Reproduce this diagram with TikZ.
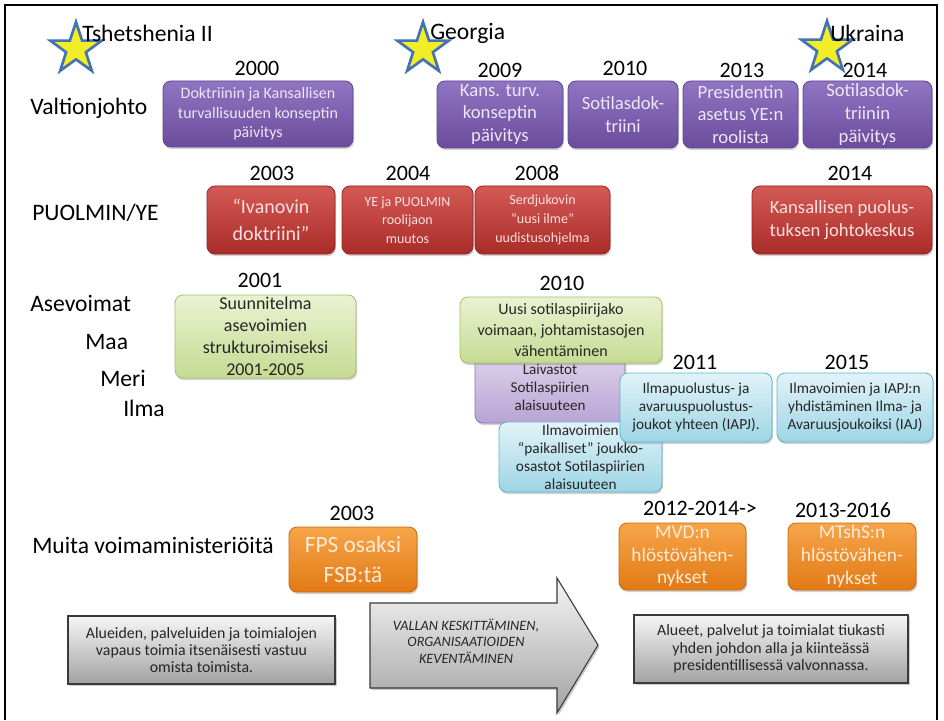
\documentclass[tikz,border=0pt]{standalone}
\usepackage{fontspec}
\setmainfont{Carlito}
\usetikzlibrary{shapes.geometric,shadows}
\definecolor{ptop}{HTML}{9075C2}
\definecolor{pbot}{HTML}{6B4C9C}
\definecolor{pedge}{HTML}{5E4390}
\definecolor{ptext}{HTML}{ECE6F6}
\definecolor{rtop}{HTML}{D45A55}
\definecolor{rbot}{HTML}{A92B28}
\definecolor{redge}{HTML}{932420}
\definecolor{rtext}{HTML}{F8E0DE}
\definecolor{otop}{HTML}{F7A54A}
\definecolor{obot}{HTML}{E27A15}
\definecolor{oedge}{HTML}{C9690F}
\definecolor{otext}{HTML}{FDEBD8}
\definecolor{gtop}{HTML}{EAF2D2}
\definecolor{gbot}{HTML}{C6DB92}
\definecolor{gedge}{HTML}{A3C064}
\definecolor{ctop}{HTML}{E2F3F8}
\definecolor{cbot}{HTML}{9DD5E5}
\definecolor{cedge}{HTML}{5DB3CB}
\definecolor{ltop}{HTML}{E0D5EC}
\definecolor{lbot}{HTML}{B9A4D4}
\definecolor{ledge}{HTML}{8C72B0}
\definecolor{darktext}{HTML}{262626}
\definecolor{startfill}{HTML}{F1EE27}
\definecolor{staredge}{HTML}{4472B4}
\definecolor{graytop}{HTML}{F6F6F6}
\definecolor{graybot}{HTML}{A2A2A2}
\definecolor{grayedge}{HTML}{3A3A3A}
\newcommand\mybox[7]{\node[#1, minimum width={(#5-#3)*0.75pt}, minimum height={(#6-#4)*0.75pt}] (#2) at ({(#3+#5)/2},{(#4+#6)/2}) {#7};}
\tikzset{
  base/.style={rounded corners=6pt, align=center, inner sep=0pt, line width=0.6pt,
    drop shadow={opacity=0.35, shadow xshift=0.8pt, shadow yshift=-1.6pt}},
  purp/.style={base, draw=pedge, top color=ptop, bottom color=pbot, text=ptext},
  redb/.style={base, draw=redge, top color=rtop, bottom color=rbot, text=rtext},
  orab/.style={base, draw=oedge, top color=otop, bottom color=obot, text=otext},
  grnb/.style={base, draw=gedge, top color=gtop, bottom color=gbot, text=darktext},
  cyab/.style={base, draw=cedge, top color=ctop, bottom color=cbot, text=darktext},
  lpub/.style={base, draw=ledge, top color=ltop, bottom color=lbot, text=darktext},
  grayb/.style={rectangle, align=center, inner sep=0pt, draw=grayedge, line width=0.8pt,
    top color=graytop, bottom color=graybot, text=darktext,
    font=\fontsize{11.9}{13}\selectfont,
    drop shadow={opacity=0.4, shadow xshift=1.2pt, shadow yshift=-1.6pt}},
  rowlbl/.style={anchor=west, inner sep=0pt, font=\fontsize{17.7}{20}\selectfont},
  yearlbl/.style={inner sep=0pt, font=\fontsize{16.5}{20}\selectfont},
  starsh/.style={star, star points=5, star point ratio=2.6, minimum size=40.5pt,
    inner sep=0pt, fill=startfill, draw=staredge, line width=2pt},
}
\begin{document}
\begin{tikzpicture}[x=0.75pt,y=-0.75pt]
\useasboundingbox (0,0) rectangle (944,720);
\fill[white] (0,0) rectangle (944,720);
\draw[line width=2.2pt] (5,720) -- (5,5) -- (937,5) -- (937,720);

% stars and conflicts
\node[starsh] (st1) at (76,49) {};
\node[starsh] (st2) at (423,49) {};
\node[starsh] (st3) at (827,48) {};
\node[rowlbl] (tsh) at (82,33) {Tshetshenia II};
\node[rowlbl] (geo) at (430,33) {Georgia};
\node[rowlbl] (ukr) at (830,33) {Ukraina};

% row labels
\node[rowlbl] (valt) at (30,108) {Valtionjohto};
\node[rowlbl] (puol) at (32,213) {PUOLMIN/YE};
\node[rowlbl] (asev) at (30,303) {Asevoimat};
\node[rowlbl] (maa) at (85,342) {Maa};
\node[rowlbl] (meri) at (100,378) {Meri};
\node[rowlbl] (ilma) at (123,408) {Ilma};
\node[rowlbl] (muita) at (32,545) {Muita voimaministeriöitä};

% years
\node[yearlbl] (y2000) at (257,68) {2000};
\node[yearlbl] (y2009) at (500,70) {2009};
\node[yearlbl] (y2010) at (625,68) {2010};
\node[yearlbl] (y2013) at (742,70) {2013};
\node[yearlbl] (y2014) at (865,70) {2014};
\node[yearlbl] (y2003) at (272,173) {2003};
\node[yearlbl] (y2004) at (408,173) {2004};
\node[yearlbl] (y2008) at (537,173) {2008};
\node[yearlbl] (y2014b) at (850,173) {2014};
\node[yearlbl] (y2001) at (260,280) {2001};
\node[yearlbl] (y2010b) at (562,283) {2010};
\node[yearlbl] (y2011) at (695,362) {2011};
\node[yearlbl] (y2015) at (847,362) {2015};
\node[yearlbl] (y2003b) at (352,513) {2003};
\node[yearlbl] (y2012) at (700,508) {2012-2014->};
\node[yearlbl] (y2013b) at (843,510) {2013-2016};

% Valtionjohto
\mybox{purp,font=\fontsize{12}{14.5}\selectfont}{b2000}{163}{81}{353}{147}{Doktriinin ja Kansallisen\\turvallisuuden konseptin\\päivitys}
\mybox{purp,font=\fontsize{14}{17}\selectfont}{b2009}{437}{81}{563}{148}{Kans. turv.\\konseptin\\päivitys}
\mybox{purp,font=\fontsize{14}{17}\selectfont}{b2010}{568}{81}{678}{148}{Sotilasdok-\\triini}
\mybox{purp,font=\fontsize{14}{17}\selectfont}{b2013}{683}{81}{798}{148}{Presidentin\\asetus YE:n\\roolista}
\mybox{purp,font=\fontsize{14}{17}\selectfont}{b2014}{803}{81}{932}{148}{Sotilasdok-\\triinin\\päivitys}

% PUOLMIN/YE
\mybox{redb,font=\fontsize{15}{20}\selectfont}{r2003}{207}{186}{335}{254}{“Ivanovin\\doktriini”}
\mybox{redb,font=\fontsize{10.5}{14}\selectfont}{r2004}{342}{186}{473}{254}{YE ja PUOLMIN\\roolijaon\\muutos}
\mybox{redb,font=\fontsize{10.5}{14}\selectfont}{r2008}{475}{186}{610}{254}{Serdjukovin\\“uusi ilme”\\uudistusohjelma}
\mybox{redb,font=\fontsize{14}{17}\selectfont}{r2014}{752}{186}{932}{254}{Kansallisen puolus-\\tuksen johtokeskus}

% Asevoimat
\mybox{grnb,font=\fontsize{13.5}{16.5}\selectfont}{g2001}{175}{295}{356}{378}{Suunnitelma\\asevoimien\\strukturoimiseksi\\2001-2005}
\mybox{lpub,font=\fontsize{11.3}{13.5}\selectfont}{lpv}{475}{350}{625}{423}{\\[-4pt]Laivastot\\Sotilaspiirien\\alaisuuteen}
\mybox{grnb,font=\fontsize{12}{16}\selectfont}{g2010}{460}{297}{662}{363}{Uusi sotilaspiirijako\\voimaan, johtamistasojen\\vähentäminen}
\mybox{cyab,font=\fontsize{11.5}{13.5}\selectfont}{cilm}{499}{422}{662}{492}{Ilmavoimien\\“paikalliset” joukko-\\osastot Sotilaspiirien\\alaisuuteen}
\mybox{cyab,font=\fontsize{11.5}{13.5}\selectfont}{c2011}{620}{373}{772}{442}{Ilmapuolustus- ja\\avaruuspuolustus-\\joukot yhteen (IAPJ).}
\mybox{cyab,font=\fontsize{11.5}{13.5}\selectfont}{c2015}{777}{373}{933}{442}{Ilmavoimien ja IAPJ:n\\yhdistäminen Ilma- ja\\Avaruusjoukoiksi (IAJ)}

% Muita voimaministerioita
\mybox{orab,font=\fontsize{17.5}{22}\selectfont}{o2003}{289}{527}{417}{592}{FPS osaksi\\FSB:tä}
\mybox{orab,font=\fontsize{14.5}{17}\selectfont}{omvd}{619}{523}{746}{590}{MVD:n\\hlöstövähen-\\nykset}
\mybox{orab,font=\fontsize{14.5}{17}\selectfont}{omts}{788}{523}{916}{590}{MTshS:n\\hlöstövähen-\\nykset}

% bottom
\mybox{grayb}{gleft}{68}{616}{335}{684}{Alueiden, palveluiden ja toimialojen\\vapaus toimia itsenäisesti vastuu\\omista toimista.}
\mybox{grayb}{gright}{634}{615}{908}{683}{Alueet, palvelut ja toimialat tiukasti\\yhden johdon alla ja kiinteässä\\presidentillisessä valvonnassa.}
\path[draw=grayedge, line width=0.8pt, top color=graytop, bottom color=graybot,
  drop shadow={opacity=0.4, shadow xshift=1.2pt, shadow yshift=-1.6pt}]
  (370,603) -- (557,603) -- (557,578) -- (598,645) -- (557,713) -- (557,688) -- (370,688) -- cycle;
\node[align=center, inner sep=0pt, text=darktext, font=\fontsize{10.7}{12.4}\selectfont\itshape] (arrtxt) at (466,641) {VALLAN KESKITTÄMINEN,\\ORGANISAATIOIDEN\\KEVENTÄMINEN};
\end{tikzpicture}
\end{document}
